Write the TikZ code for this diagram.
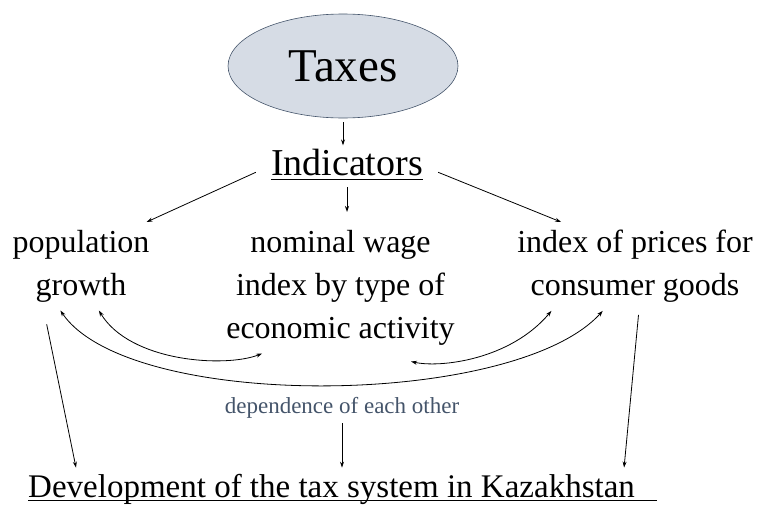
\documentclass[tikz,border=0pt]{standalone}
\usepackage{fontspec}
\setmainfont{Liberation Serif}
\usetikzlibrary{shapes.geometric,arrows.meta}
\definecolor{taxfill}{HTML}{D6DCE5}
\definecolor{taxline}{HTML}{44546A}
\definecolor{depcol}{HTML}{44546A}
\newcommand{\ulbox}[2][5pt]{\leavevmode\setbox0\hbox{#2}\rlap{\rule[-#1]{\wd0}{1.3pt}}\box0}
\begin{document}
\begin{tikzpicture}[x=1pt,y=1pt,
    arr/.style={-{Stealth[length=6pt,width=4pt]}, line width=0.8pt},
    darr/.style={{Stealth[length=6pt,width=4pt]}-{Stealth[length=6pt,width=4pt]}, line width=0.8pt},
    txt/.style={align=center, inner sep=8pt, font=\fontsize{32}{43}\selectfont}]
  \useasboundingbox (0,0) rectangle (759,-506);
  % Nodes
  \node (taxes) [ellipse, draw=taxline, fill=taxfill, line width=0.6pt, minimum width=230pt, minimum height=104pt, inner sep=0pt, font=\fontsize{47}{56}\selectfont] at (343,-66) {Taxes};
  \node (ind) [anchor=base, inner xsep=15pt, inner ysep=3pt, font=\fontsize{38}{46}\selectfont] at (347,-175) {\ulbox{Indicators}};
  \node (pop) [txt, anchor=north] at (81,-222) {population\\growth};
  \node (nom) [txt, anchor=north] at (340.5,-222) {nominal wage\\index by type of\\economic activity};
  \node (idx) [txt, anchor=north] at (635,-222) {index of prices for\\consumer goods};
  \node (dep) [anchor=base, inner sep=5pt, text=depcol, font=\fontsize{23}{28}\selectfont] at (342,-413) {dependence of each other};
  \node (dev) [anchor=base west, inner xsep=0pt, inner ysep=6pt, font=\fontsize{33}{40}\selectfont] at (28,-497) {\ulbox[4pt]{Development of the tax system in Kazakhstan\hspace{22pt}}};

  % Arrows
  \draw [arr, shorten <=4pt] (taxes.south) -- (taxes.south |- ind.north);
  \draw [arr, shorten <=4pt, shorten >=10pt] (ind.south) -- (ind.south |- nom.north);
  \draw [arr] (ind.185) -- (pop.34);
  \draw [arr] (ind.355) -- (idx.149);

  % Dependence curves
  \draw [darr] (nom.220) .. controls (225,-368) and (130,-362) .. (pop.292);
  \draw [darr] ([yshift=-8pt]nom.317) .. controls (440,-368) and (510,-360) .. (idx.208);
  \draw [darr] (pop.245) .. controls (130,-412) and (515,-408) .. (idx.234);

  % Towards the tax system
  \draw [arr, shorten <=14pt] (pop.230) -- ([xshift=48pt]dev.north west);
  \draw [arr] (dep.south) -- (dep.south |- dev.north);
  \draw [arr, shorten <=4pt] (idx.275) -- ([xshift=-33pt]dev.north east);
\end{tikzpicture}
\end{document}
